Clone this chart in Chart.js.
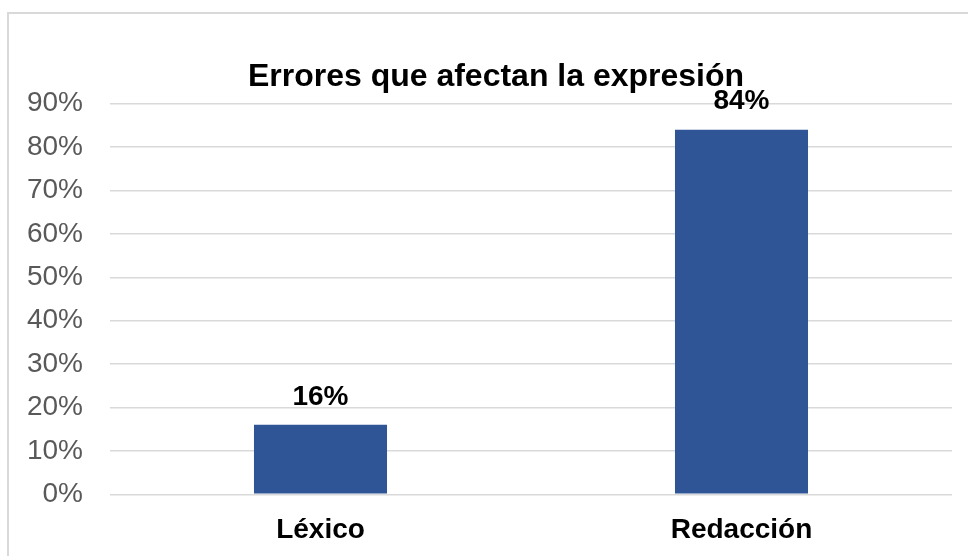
<!DOCTYPE html>
<html>
<head>
<meta charset="utf-8">
<script src="https://cdn.jsdelivr.net/npm/chart.js@4/dist/chart.umd.min.js"></script>
<style>
  html, body { margin: 0; padding: 0; background: #ffffff; }
  #wrap { position: relative; width: 968px; height: 556px; overflow: hidden; }
  #frame { position: absolute; left: 7px; top: 12px; width: 1000px; height: 600px;
           border-left: 2px solid #d9d9d9; border-top: 2px solid #d9d9d9; box-sizing: border-box; }
  canvas { position: absolute; left: 0; top: 0; }
</style>
</head>
<body>
<div id="wrap">
  <div id="frame"></div>
  <canvas id="c" width="968" height="556"></canvas>
</div>
<script>
const titleText = "Errores que afectan la expresión";
const categories = ["Léxico", "Redacción"];
const values = [16, 84];
const yTicks = [0, 10, 20, 30, 40, 50, 60, 70, 80, 90];

const FONT = "'Liberation Sans', Arial, sans-serif";

const dataLabels = {
  id: 'dataLabels',
  afterDatasetsDraw(chart) {
    const ctx = chart.ctx;
    const meta = chart.getDatasetMeta(0);
    ctx.save();
    ctx.font = "bold 28px " + FONT;
    ctx.fillStyle = "#000000";
    ctx.textAlign = "center";
    ctx.textBaseline = "middle";
    meta.data.forEach((bar, i) => {
      ctx.fillText(values[i] + "%", bar.x, bar.y - 28);
    });
    // chart title
    ctx.font = "bold 32px " + FONT;
    ctx.fillText(titleText, 496, 77);
    ctx.restore();
  }
};

new Chart(document.getElementById('c'), {
  type: 'bar',
  data: {
    labels: categories,
    datasets: [{
      data: values,
      backgroundColor: '#2F5597',
      borderWidth: 0,
      barPercentage: 0.316,
      categoryPercentage: 1.0
    }]
  },
  options: {
    responsive: false,
    animation: false,
    devicePixelRatio: 1,
    layout: { padding: { left: 0, right: 16, top: 103.7, bottom: 0 } },
    plugins: {
      legend: { display: false },
      tooltip: { enabled: false },
      title: { display: false }
    },
    scales: {
      x: {
        grid: { display: false, drawTicks: false },
        border: { display: false },
        afterFit(scale) { scale.height = 61.7; },
        ticks: {
          color: '#000000',
          font: { family: FONT, size: 28, weight: 'bold' },
          padding: 19
        }
      },
      y: {
        min: 0,
        max: 90,
        afterBuildTicks(scale) { scale.ticks = yTicks.map(v => ({ value: v })); },
        afterFit(scale) { scale.width = 110; },
        grid: { color: '#d9d9d9', lineWidth: 1.5, drawTicks: false },
        border: { display: false },
        ticks: {
          color: '#595959',
          font: { family: FONT, size: 28 },
          padding: 27,
          callback: v => v + '%'
        }
      }
    }
  },
  plugins: [dataLabels]
});
</script>
</body>
</html>
